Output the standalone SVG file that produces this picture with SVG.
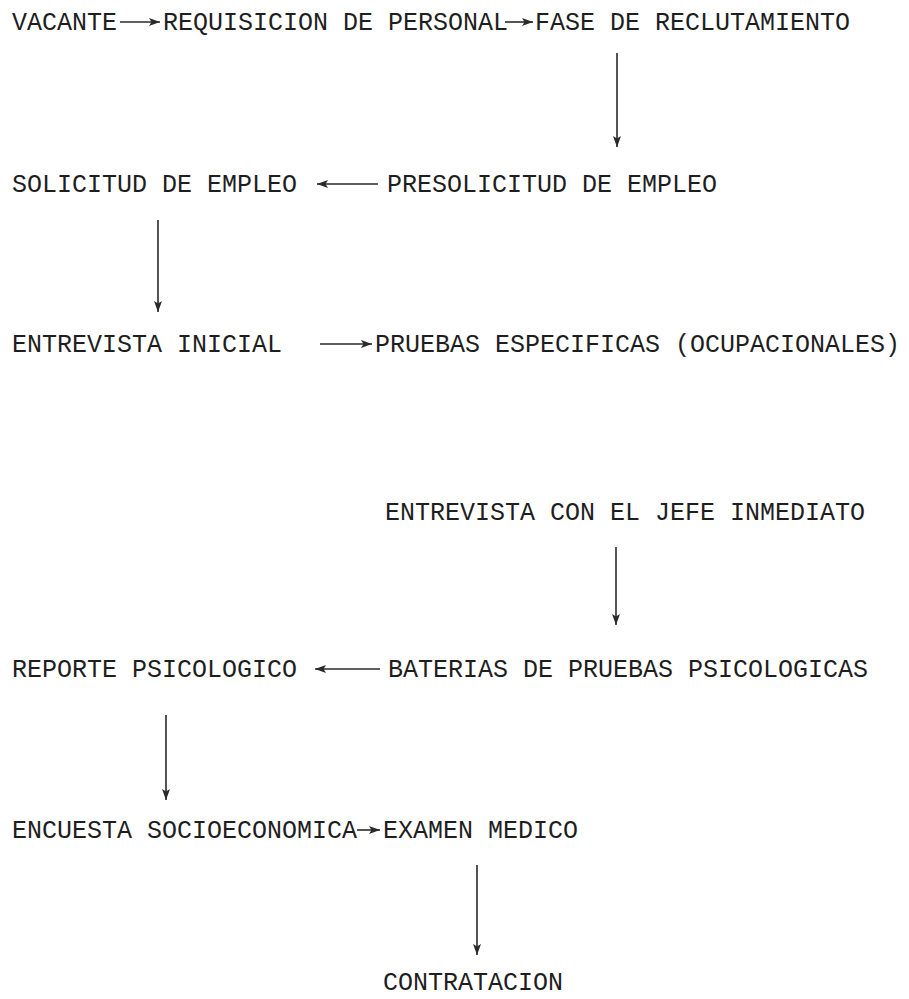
<svg xmlns="http://www.w3.org/2000/svg" width="909" height="999" viewBox="0 0 909 999">
<style>
text{font-family:"Liberation Mono","Courier New",monospace;font-size:25px;fill:#1e1e1e}
.c line{stroke:#2a2a2a;stroke-width:1.6;marker-end:url(#ah)}
</style>
<defs>
<marker id="ah" markerUnits="userSpaceOnUse" markerWidth="12" markerHeight="10" refX="11" refY="4" orient="auto">
<path d="M0,0 L11,4 L0,8 L2.5,4 Z" fill="#2a2a2a"/>
</marker>
</defs>
<rect width="909" height="999" fill="#ffffff"/>
<g id="n-vacante"><text x="12" y="30">VACANTE</text></g>
<g id="n-requisicion"><text x="163" y="30">REQUISICION DE PERSONAL</text></g>
<g id="n-fase"><text x="535" y="30">FASE DE RECLUTAMIENTO</text></g>
<g id="n-solicitud"><text x="12" y="192">SOLICITUD DE EMPLEO</text></g>
<g id="n-presolicitud"><text x="387" y="192">PRESOLICITUD DE EMPLEO</text></g>
<g id="n-entrevista-inicial"><text x="12" y="352">ENTREVISTA INICIAL</text></g>
<g id="n-pruebas"><text x="375" y="352">PRUEBAS ESPECIFICAS (OCUPACIONALES)</text></g>
<g id="n-entrevista-jefe"><text x="385" y="520">ENTREVISTA CON EL JEFE INMEDIATO</text></g>
<g id="n-reporte"><text x="12" y="677">REPORTE PSICOLOGICO</text></g>
<g id="n-baterias"><text x="388" y="677">BATERIAS DE PRUEBAS PSICOLOGICAS</text></g>
<g id="n-encuesta"><text x="12" y="838">ENCUESTA SOCIOECONOMICA</text></g>
<g id="n-examen"><text x="383" y="838">EXAMEN MEDICO</text></g>
<g id="n-contratacion"><text x="383" y="990">CONTRATACION</text></g>
<g id="connectors" class="c">
<line x1="120" y1="22" x2="160" y2="22"/>
<line x1="505" y1="22" x2="533" y2="22"/>
<line x1="617" y1="53" x2="617" y2="147"/>
<line x1="378" y1="184" x2="317" y2="184"/>
<line x1="158" y1="220" x2="158" y2="312"/>
<line x1="320" y1="344" x2="372" y2="344"/>
<line x1="616" y1="547" x2="616" y2="625"/>
<line x1="380" y1="669" x2="315" y2="669"/>
<line x1="166" y1="715" x2="166" y2="800"/>
<line x1="357" y1="830" x2="380" y2="830"/>
<line x1="477" y1="865" x2="477" y2="955"/>
</g>
</svg>
